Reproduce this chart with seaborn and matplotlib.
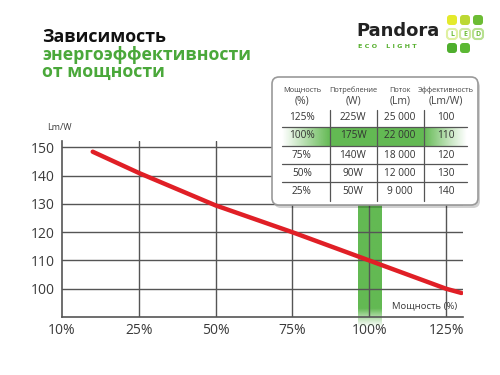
import numpy as np
import pandas as pd
import matplotlib
matplotlib.use("Agg")
import matplotlib.pyplot as plt
from matplotlib.patches import FancyBboxPatch
import seaborn as sns

# ---------------- data ----------------
power_pct = [10, 25, 50, 75, 100, 125, 130]
efficiency = [148.5, 141.0, 129.5, 120.0, 110.0, 100.0, 98.5]

x_ticks = [0, 25, 50, 75, 100, 125]
x_tick_labels = ["10%", "25%", "50%", "75%", "100%", "125%"]
y_ticks = [100, 110, 120, 130, 140, 150]

table_headers_top = ["Мощность", "Потребление", "Поток", "Эффективность"]
table_headers_bottom = ["(%)", "(W)", "(Lm)", "(Lm/W)"]
table_rows = [
    ["125%", "225W", "25 000", "100"],
    ["100%", "175W", "22 000", "110"],
    ["75%", "140W", "18 000", "120"],
    ["50%", "90W", "12 000", "130"],
    ["25%", "50W", "9 000", "140"],
]
highlight_row = 1
highlight_x = 100

title_lines = ["Зависимость", "энергоэффективности", "от мощности"]

# ---------------- style ----------------
sns.set_theme(style="white")
plt.rcParams["font.family"] = ["Open Sans", "DejaVu Sans"]

GREEN = "#5bb64a"
RED = "#e01f26"
GRID = "#555555"
TXT = "#3a3a3a"

fig = plt.figure(figsize=(5, 3.75), dpi=100)
W, H = 500, 375

# main axes (pixel placement)
ax_l, ax_r, ax_b, ax_t = 62, 463, 317, 141
ax = fig.add_axes([ax_l / W, 1 - ax_b / H, (ax_r - ax_l) / W, (ax_b - ax_t) / H])
ax.set_xlim(0, 130.5)
ax.set_ylim(90, 152.3)

df = pd.DataFrame({"power": power_pct, "eff": efficiency})

# green band at 100%
band_w = 3.8
ny = 300
grad = np.ones((ny, 1, 4))
rgb = matplotlib.colors.to_rgb(GREEN)
grad[..., 0], grad[..., 1], grad[..., 2] = rgb
yy = np.linspace(152, 86.0, ny)
grad[:, 0, 3] = np.clip((yy - 86.0) / (92.8 - 86.0), 0, 1) ** 1.2 * 0.95
ax.imshow(grad, extent=(highlight_x - band_w, highlight_x + band_w, 86.0, 152),
          aspect="auto", origin="upper", zorder=1, clip_on=False, interpolation="bilinear")

# gridlines
for yv in y_ticks:
    ax.axhline(yv, color=GRID, lw=1.0, zorder=2)
for xv in x_ticks[1:]:
    ax.axvline(xv, color=GRID, lw=1.0, zorder=2)

sns.lineplot(data=df, x="power", y="eff", ax=ax, color=RED, lw=3.2, zorder=4)

for s in ["top", "right"]:
    ax.spines[s].set_visible(False)
for s in ["left", "bottom"]:
    ax.spines[s].set_color(GRID)
    ax.spines[s].set_linewidth(1.2)

ax.set_xticks(x_ticks)
ax.set_xticklabels(x_tick_labels)
ax.set_yticks(y_ticks)
ax.tick_params(axis="both", length=0, labelsize=10, labelcolor=TXT)
ax.tick_params(axis="x", pad=4)
ax.tick_params(axis="y", pad=5)
ax.set_xlabel("")
ax.set_ylabel("")
ax.grid(False)

# ---------------- overlay in pixel coords ----------------
ov = fig.add_axes([0, 0, 1, 1], zorder=10)
ov.set_xlim(0, W)
ov.set_ylim(H, 0)
ov.axis("off")
ov.patch.set_alpha(0)

# axis captions
ov.text(59, 127, "Lm/W", fontsize=6.5, color=TXT, ha="center", va="center")
ov.text(457, 306, "Мощность (%)", fontsize=6.8, color=TXT, ha="right", va="center")

# title
ov.text(42, 37, title_lines[0], fontsize=12.8, fontweight="bold", color="#111111", va="center")
ov.text(42, 55, title_lines[1], fontsize=12.8, fontweight="bold", color="#4aa83a", va="center")
ov.text(42, 72, title_lines[2], fontsize=12.8, fontweight="bold", color="#4aa83a", va="center")

# logo
ov.text(356, 31, "Pandora", fontsize=13, fontweight="bold", color="#222222", va="center",
        family=["DejaVu Sans"])
ov.text(358, 46, "E C O    L I G H T", fontsize=4.6, fontweight="bold", color="#58b030",
        va="center", family=["DejaVu Sans"])
sq_cols = [447, 460, 473]
sq_rows = [15, 29, 43]
sq = 10
top_cols = ["#e4ea2c", "#bcd833", "#6cbc34"]
for xc, c in zip(sq_cols, top_cols):
    ov.add_patch(FancyBboxPatch((xc, sq_rows[0]), sq, sq, boxstyle="round,pad=0,rounding_size=3",
                                fc=c, ec="none"))
for xc, letter, c in zip(sq_cols, ["L", "E", "D"], ["#dff0a0", "#cfe8a0", "#b8e090"]):
    ov.add_patch(FancyBboxPatch((xc, sq_rows[1]), sq, sq, boxstyle="round,pad=0,rounding_size=3",
                                fc="white", ec=c, lw=1.5))
    ov.text(xc + sq / 2, sq_rows[1] + sq / 2 + 0.5, letter, fontsize=5, fontweight="bold",
            color="#6cbc34", ha="center", va="center")
for xc, c in zip(sq_cols[:2], ["#4fae2e", "#5cb834"]):
    ov.add_patch(FancyBboxPatch((xc, sq_rows[2]), sq, sq, boxstyle="round,pad=0,rounding_size=3",
                                fc=c, ec="none"))

# table box
tb_l, tb_r, tb_t, tb_b = 272, 478, 77, 205
ov.add_patch(FancyBboxPatch((tb_l + 2, tb_t + 3), tb_r - tb_l, tb_b - tb_t,
                            boxstyle="round,pad=0,rounding_size=7", fc="#000000", ec="none",
                            alpha=0.18))
ov.add_patch(FancyBboxPatch((tb_l, tb_t), tb_r - tb_l, tb_b - tb_t,
                            boxstyle="round,pad=0,rounding_size=7", fc="white", ec="#9a9a9a",
                            lw=1.2))

col_x = [302, 353, 400, 446]
sep_x = [330, 377, 424]
row_y = [118, 136, 155, 173, 191]
row_sep = [127, 146, 164, 182]
line_l, line_r = 282, 467

# highlight gradient
hx = np.linspace(line_l, line_r, 300)
alpha = np.interp(hx, [line_l, 300, 330, 424, 450, line_r], [0.0, 0.35, 0.95, 0.95, 0.35, 0.0])
hl = np.ones((1, hx.size, 4))
hl[..., 0], hl[..., 1], hl[..., 2] = rgb
hl[0, :, 3] = alpha
ov.imshow(hl, extent=(line_l, line_r, row_sep[highlight_row], row_sep[highlight_row - 1]),
          aspect="auto", interpolation="bilinear", zorder=2)
ov.set_xlim(0, W)
ov.set_ylim(H, 0)

for yv in row_sep:
    ov.plot([line_l, line_r], [yv, yv], color="#555555", lw=0.9, zorder=3)
for xv in sep_x:
    ov.plot([xv, xv], [110, 201], color="#555555", lw=0.9, zorder=3)

for xc, h1, h2 in zip(col_x, table_headers_top, table_headers_bottom):
    ov.text(xc, 90, h1, fontsize=5.3, color="#444444", ha="center", va="center", zorder=4)
    ov.text(xc, 101, h2, fontsize=7.5, color="#444444", ha="center", va="center", zorder=4)
for yv, row in zip(row_y, table_rows):
    for xc, val in zip(col_x, row):
        ov.text(xc, yv, val, fontsize=7.3, color="#333333", ha="center", va="center", zorder=4)

fig.savefig("out.png", dpi=100)
